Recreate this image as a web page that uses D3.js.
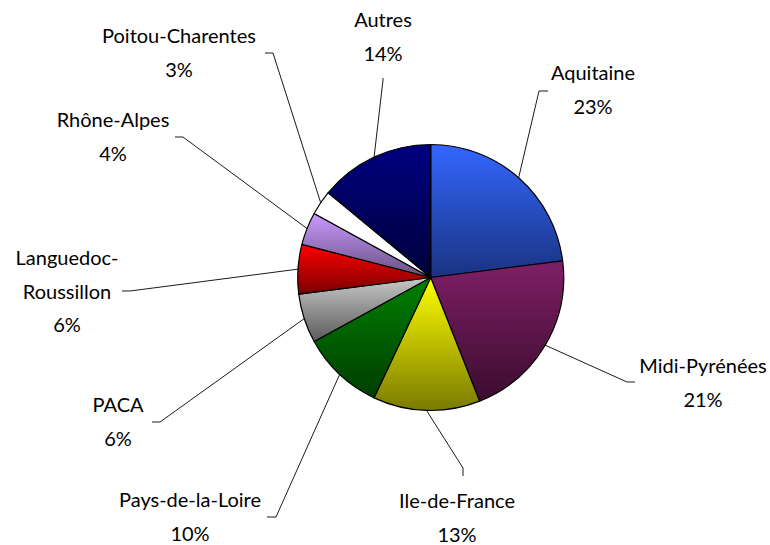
<!DOCTYPE html>
<html>
<head>
<meta charset="utf-8">
<script src="https://cdn.jsdelivr.net/npm/d3@7"></script>
<style>
    body { margin: 0; background: #fff; }
    text { font-family: Lato, "Open Sans", sans-serif; font-size: 20px; fill: #000; }
</style>
</head>
<body>
<div id="chart"></div>
<script>
const regions = ['Aquitaine', 'Midi-Pyrénées', 'Ile-de-France', 'Pays-de-la-Loire', 'PACA',
    'Languedoc-Roussillon', 'Rhône-Alpes', 'Poitou-Charentes', 'Autres'];
const shares = [23, 21, 13, 10, 6, 6, 4, 3, 14];

// top / bottom colour of each slice gradient
const topColors = ['#3366ff', '#7f1f66', '#ffff00', '#008000', '#c8c8c8', '#ff0000', '#cc99ff', '#ffffff', '#000080'];
const bottomColors = ['#1a3380', '#3a0c2e', '#7a7a00', '#003d00', '#5a5a5a', '#7a0000', '#665080', '#ffffff', '#00003d'];

// label layout: text lines, text centre x, first baseline y, leader elbow and leader end
const labelLayout = [
    { lines: ['Aquitaine', '23%'], x: 593, y: 80, elbow: [539, 91], end: [548, 91] },
    { lines: ['Midi-Pyrénées', '21%'], x: 703, y: 373, elbow: [627, 382], end: [635, 382] },
    { lines: ['Ile-de-France', '13%'], x: 457, y: 508, elbow: [463, 468], end: [463, 476] },
    { lines: ['Pays-de-la-Loire', '10%'], x: 190, y: 507, elbow: [276, 517], end: [267, 517] },
    { lines: ['PACA', '6%'], x: 118, y: 412, elbow: [160, 422], end: [152, 422] },
    { lines: ['Languedoc-', 'Roussillon', '6%'], x: 67, y: 265, elbow: [130, 291], end: [122, 291] },
    { lines: ['Rhône-Alpes', '4%'], x: 113, y: 127, elbow: [183, 137], end: [175, 137] },
    { lines: ['Poitou-Charentes', '3%'], x: 179, y: 43, elbow: [273, 53], end: [265, 53] },
    { lines: ['Autres', '14%'], x: 383, y: 27, elbow: [383, 80], end: [383, 78] }
];

const width = 770, height = 545;
const cx = 430.7, cy = 277.5, radius = 133;
const lineStep = 33.5;

const svg = d3.select('#chart').append('svg')
    .attr('width', width)
    .attr('height', height);

const defs = svg.append('defs');
regions.forEach((r, i) => {
    const g = defs.append('linearGradient')
        .attr('id', 'grad' + i)
        .attr('x1', 0).attr('y1', 0).attr('x2', 0).attr('y2', 1);
    g.append('stop').attr('offset', '0%').attr('stop-color', topColors[i]);
    g.append('stop').attr('offset', '100%').attr('stop-color', bottomColors[i]);
});

const pie = d3.pie().sort(null).value(d => d);
const arcs = pie(shares);
const arc = d3.arc().innerRadius(0).outerRadius(radius);

const g = svg.append('g').attr('transform', `translate(${cx},${cy})`);

g.selectAll('path.slice')
    .data(arcs)
    .enter().append('path')
    .attr('class', 'slice')
    .attr('d', arc)
    .attr('fill', (d, i) => `url(#grad${i})`)
    .attr('stroke', '#000')
    .attr('stroke-width', 1.2)
    .attr('stroke-linejoin', 'round');

// leader lines from the middle of each slice edge
const edgePoint = d => {
    const a = (d.startAngle + d.endAngle) / 2;
    return [cx + radius * Math.sin(a), cy - radius * Math.cos(a)];
};

svg.selectAll('path.leader')
    .data(arcs)
    .enter().append('path')
    .attr('class', 'leader')
    .attr('d', (d, i) => d3.line()([edgePoint(d), labelLayout[i].elbow, labelLayout[i].end]))
    .attr('fill', 'none')
    .attr('stroke', '#000')
    .attr('stroke-width', 0.9);

const labels = svg.selectAll('text.label')
    .data(labelLayout)
    .enter().append('text')
    .attr('class', 'label')
    .attr('text-anchor', 'middle');

labels.selectAll('tspan')
    .data(d => d.lines.map((t, k) => ({ t, x: d.x, y: d.y + k * lineStep })))
    .enter().append('tspan')
    .attr('x', d => d.x)
    .attr('y', d => d.y)
    .text(d => d.t);
</script>
</body>
</html>
